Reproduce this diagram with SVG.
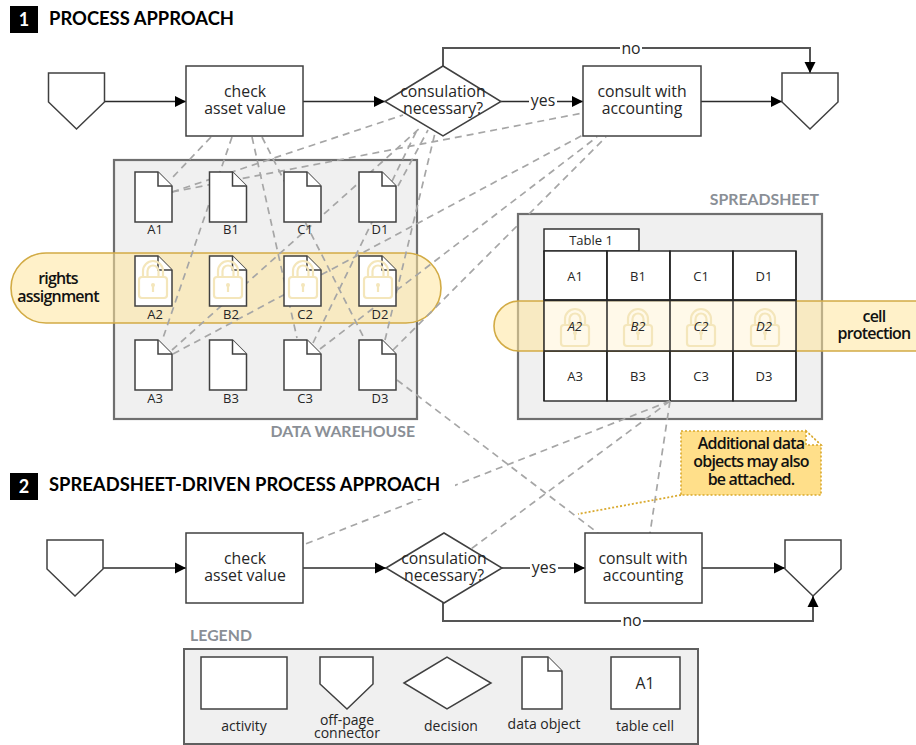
<svg xmlns="http://www.w3.org/2000/svg" width="916" height="745" viewBox="0 0 916 745">
<style>
text{font-family:"Open Sans","Noto Sans","Liberation Sans",sans-serif;fill:#262626;font-size:15.800px;text-anchor:middle}
.s{fill:#fff;stroke:#404040;stroke-width:1.5}
.sm{font-size:13px}
.lg{font-size:14px}
.it{font-size:13px;font-style:italic}
.title{font-family:Lato,"Open Sans",sans-serif;font-weight:700;font-size:18.400px;fill:#000;text-anchor:start}
.badge{font-family:Lato,"Open Sans",sans-serif;font-weight:700;font-size:18px;fill:#fff}
.cap{font-family:Lato,"Open Sans",sans-serif;font-weight:700;font-size:15.800px;fill:#8a8f96}
.em{font-size:16px;font-weight:600;letter-spacing:-.8px;fill:#111}
.panel{fill:#f0f0f0;stroke:#6f6f6f;stroke-width:2.2}
.band{fill:#ffe59c;fill-opacity:.55;stroke:#d2ab45;stroke-width:1.6}
.cell{fill:#fff;stroke:#262626;stroke-width:1.4}
.dash{fill:none;stroke:#a6a6a6;stroke-width:1.7;stroke-dasharray:7 5}
.flow{fill:none;stroke:#2b2b2b;stroke-width:1.6;marker-end:url(#arrow)}
.flowg{fill:none;stroke:#555;stroke-width:2;marker-end:url(#arrow)}
.lock{fill:none;stroke:#f4e6bb;stroke-width:2.2}
</style>
<defs>
<marker id="arrow" markerUnits="userSpaceOnUse" markerWidth="12" markerHeight="12" refX="11" refY="6" orient="auto"><path d="M0,0.5 L11,6 L0,11.500 Z" fill="#000"/></marker>
<g id="doc"><path class="s" d="M0,0 H23 L37,14 V50 H0 Z"/><path class="s" d="M23,0 V14 H37"/></g>
<path id="off" class="s" d="M0,0 H56 V29 L28,56 L0,29 Z"/>
<g id="lk"><rect class="lock" x="-14" y="15" width="28" height="21" rx="3"/><path class="lock" d="M-10,15 V9 A10,10 0 0 1 10,9 V15 M-5.500,15 V9 A5.500,5.500 0 0 1 5.500,9 V15"/><circle cx="0" cy="23" r="2" fill="#f4e6bb"/><path class="lock" d="M0,23 V30"/></g>
</defs>
<rect width="916" height="745" fill="#fff"/>

<g id="data-warehouse"><rect class="panel" x="114" y="160" width="303" height="259"/><text class="cap" x="415" y="437" style="text-anchor:end">DATA WAREHOUSE</text></g>
<g id="rights-assignment"><rect class="band" x="11" y="253" width="430" height="70" rx="35"/><text class="em" x="58"><tspan x="58" y="284">rights</tspan><tspan x="58" y="302">assignment</tspan></text></g>

<g id="spreadsheet">
<rect class="panel" x="518" y="214" width="304" height="205"/>
<text class="cap" x="819" y="205" style="text-anchor:end">SPREADSHEET</text>
<rect class="cell" x="544" y="229" width="95" height="22"/>
<text class="sm" x="591" y="245">Table 1</text>
<g id="table-cells">
<rect class="cell" x="544" y="251" width="63" height="49"/><rect class="cell" x="607" y="251" width="63" height="49"/><rect class="cell" x="670" y="251" width="63" height="49"/><rect class="cell" x="733" y="251" width="63" height="49"/>
<rect class="cell" x="544" y="300" width="63" height="51"/><rect class="cell" x="607" y="300" width="63" height="51"/><rect class="cell" x="670" y="300" width="63" height="51"/><rect class="cell" x="733" y="300" width="63" height="51"/>
<rect class="cell" x="544" y="351" width="63" height="50"/><rect class="cell" x="607" y="351" width="63" height="50"/><rect class="cell" x="670" y="351" width="63" height="50"/><rect class="cell" x="733" y="351" width="63" height="50"/>
</g>
<path class="band" d="M920,301 H519 A25,25 0 0 0 519,351 H920"/>
<rect x="544" y="301" width="252" height="50" fill="#fff" fill-opacity=".6"/>
<g fill="none" stroke="#262626" stroke-width="1.4"><path d="M544,300.500 H796 M544,351 H796 M544,251 V401 M607,251 V401 M670,251 V401 M733,251 V401 M796,251 V401"/></g>
<use href="#lk" x="575" y="310"/><use href="#lk" x="638" y="310"/><use href="#lk" x="701" y="310"/><use href="#lk" x="765" y="310"/>
<text class="sm" x="575" y="281">A1</text><text class="sm" x="638" y="281">B1</text><text class="sm" x="701" y="281">C1</text><text class="sm" x="764" y="281">D1</text>
<text class="it" x="575" y="331">A2</text><text class="it" x="638" y="331">B2</text><text class="it" x="701" y="331">C2</text><text class="it" x="764" y="331">D2</text>
<text class="sm" x="575" y="381">A3</text><text class="sm" x="638" y="381">B3</text><text class="sm" x="701" y="381">C3</text><text class="sm" x="764" y="381">D3</text>
<text class="em" x="874"><tspan x="874" y="322">cell</tspan><tspan x="874" y="339">protection</tspan></text>
</g>

<g id="connectors">
<path class="dash" d="M211,137 L172,178"/>
<path class="dash" d="M232,137 L163,338"/>
<path class="dash" d="M252,137 L297,338"/>
<path class="dash" d="M262,137 L364,338"/>
<path class="dash" d="M172,192 L403,115"/>
<path class="dash" d="M172,192 L583,113"/>
<path class="dash" d="M172,350 L420,128"/>
<path class="dash" d="M173,354 L583,135"/>
<path class="dash" d="M313,343 L418,128"/>
<path class="dash" d="M320,349 L597,137"/>
<path class="dash" d="M398,186 L428,130"/>
<path class="dash" d="M385,340 L435,133"/>
<path class="dash" d="M393,350 L518,225 M529,214 L606,137"/>
<path class="dash" d="M397,380 L598,533"/>
<path class="dash" d="M670,401 L303,545"/>
<path class="dash" d="M670,401 L471,549"/>
<path class="dash" d="M670,401 L650,533"/>
<path d="M681,495 L578,514" fill="none" stroke="#d9a92e" stroke-width="1.8" stroke-dasharray="2 2"/>
<path class="flow" d="M105,101.500 H186"/>
<path class="flow" d="M303,101.500 H385"/>
<path class="flow" d="M501,101.500 H583"/>
<path class="flow" d="M701,101.500 H782"/>
<path class="flowg" d="M443,66 V48 H810 V73"/>
<path class="flow" d="M103,568 H186"/>
<path class="flow" d="M303,568 H386"/>
<path class="flow" d="M502,568 H585"/>
<path class="flow" d="M702,568 H785"/>
<path class="flowg" d="M443,603 V621 H813 V596"/>
<rect x="620" y="40" width="22" height="16" fill="#fff"/><text x="631" y="54">no</text>
<rect x="529" y="93" width="28" height="16" fill="#fff"/><text x="543" y="106">yes</text>
<rect x="530" y="560" width="28" height="16" fill="#fff"/><text x="544" y="573">yes</text>
<rect x="621" y="613" width="22" height="16" fill="#fff"/><text x="632" y="626">no</text>
</g>

<g id="title-1"><rect x="10" y="6" width="28" height="27" fill="#000"/><text class="badge" x="24" y="26">1</text><text class="title" x="49" y="25">PROCESS APPROACH</text></g>
<g id="title-2"><rect x="44" y="472" width="411" height="27" fill="#fff"/><rect x="10" y="473" width="28" height="27" fill="#000"/><text class="badge" x="24" y="493">2</text><text class="title" x="49" y="491">SPREADSHEET-DRIVEN PROCESS APPROACH</text></g>

<g id="start-1"><use href="#off" x="48.500" y="73"/></g>
<g id="check-1"><rect class="s" x="186" y="66" width="117" height="70"/><text x="245"><tspan x="245" y="97">check</tspan><tspan x="245" y="114">asset value</tspan></text></g>
<g id="decision-1"><path class="s" d="M385,101.500 L443,66 L501,101.500 L443,136 Z"/><text x="443"><tspan x="443" y="97">consulation</tspan><tspan x="443" y="114">necessary?</tspan></text></g>
<g id="consult-1"><rect class="s" x="583" y="66" width="118" height="70"/><text x="642"><tspan x="642" y="97">consult with</tspan><tspan x="642" y="114">accounting</tspan></text></g>
<g id="end-1"><use href="#off" x="782" y="73"/></g>

<g id="doc-a1"><use href="#doc" x="135" y="172"/><text class="sm" x="155" y="234">A1</text></g>
<g id="doc-b1"><use href="#doc" x="209.500" y="172"/><text class="sm" x="231" y="234">B1</text></g>
<g id="doc-c1"><use href="#doc" x="284" y="172"/><text class="sm" x="305" y="234">C1</text></g>
<g id="doc-d1"><use href="#doc" x="359" y="172"/><text class="sm" x="380" y="234">D1</text></g>
<g id="doc-a2"><use href="#doc" x="135" y="256"/><use href="#lk" x="153" y="262"/><text class="sm" x="155" y="319">A2</text></g>
<g id="doc-b2"><use href="#doc" x="209.500" y="256"/><use href="#lk" x="228" y="262"/><text class="sm" x="231" y="319">B2</text></g>
<g id="doc-c2"><use href="#doc" x="284" y="256"/><use href="#lk" x="303" y="262"/><text class="sm" x="305" y="319">C2</text></g>
<g id="doc-d2"><use href="#doc" x="359" y="256"/><use href="#lk" x="378" y="262"/><text class="sm" x="380" y="319">D2</text></g>
<g id="doc-a3"><use href="#doc" x="135" y="340"/><text class="sm" x="155" y="403">A3</text></g>
<g id="doc-b3"><use href="#doc" x="209.500" y="340"/><text class="sm" x="231" y="403">B3</text></g>
<g id="doc-c3"><use href="#doc" x="284" y="340"/><text class="sm" x="305" y="403">C3</text></g>
<g id="doc-d3"><use href="#doc" x="359" y="340"/><text class="sm" x="380" y="403">D3</text></g>

<g id="note">
<path d="M681,431 H806 L821,445 V495 H681 Z" fill="#ffdf8a" stroke="#d9a92e" stroke-width="1.6" stroke-dasharray="2 2"/>
<path d="M806,431 V445 H821 Z" fill="#fff" stroke="#d9a92e" stroke-width="1.6" stroke-dasharray="2 2"/>
<text class="em" x="751"><tspan x="751" y="449">Additional data</tspan><tspan x="751" y="467">objects may also</tspan><tspan x="751" y="485">be attached.</tspan></text>
</g>

<g id="start-2"><use href="#off" x="47" y="540"/></g>
<g id="check-2"><rect class="s" x="186" y="533" width="117" height="70"/><text x="245"><tspan x="245" y="564">check</tspan><tspan x="245" y="581">asset value</tspan></text></g>
<g id="decision-2"><path class="s" d="M386,568 L444,533 L502,568 L444,603 Z"/><text x="444"><tspan x="444" y="564">consulation</tspan><tspan x="444" y="581">necessary?</tspan></text></g>
<g id="consult-2"><rect class="s" x="585" y="533" width="117" height="70"/><text x="643"><tspan x="643" y="564">consult with</tspan><tspan x="643" y="581">accounting</tspan></text></g>
<g id="end-2"><use href="#off" x="785" y="540"/></g>

<g id="legend">
<text class="cap" x="221" y="641">LEGEND</text>
<rect x="184" y="649" width="514" height="95" fill="#f0f0f0" stroke="#5f5f5f" stroke-width="2"/>
<rect class="s" x="201" y="657" width="86" height="52"/>
<path class="s" d="M320,657 H373 V684 L347,709 L320,684 Z"/>
<path class="s" d="M404,683 L447,657 L491,683 L447,709 Z"/>
<path class="s" d="M522,657 H548 L562,671 V709 H522 Z"/><path class="s" d="M548,657 V671 H562"/>
<rect class="s" x="611" y="657" width="69" height="52"/>
<text x="645" y="689">A1</text>
<text class="lg" x="244" y="731">activity</text>
<text class="lg" x="347"><tspan x="347" y="725">off-page</tspan><tspan x="347" y="738">connector</tspan></text>
<text class="lg" x="451" y="731">decision</text>
<text class="lg" x="544" y="729">data object</text>
<text class="lg" x="645" y="731">table cell</text>
</g>
</svg>
